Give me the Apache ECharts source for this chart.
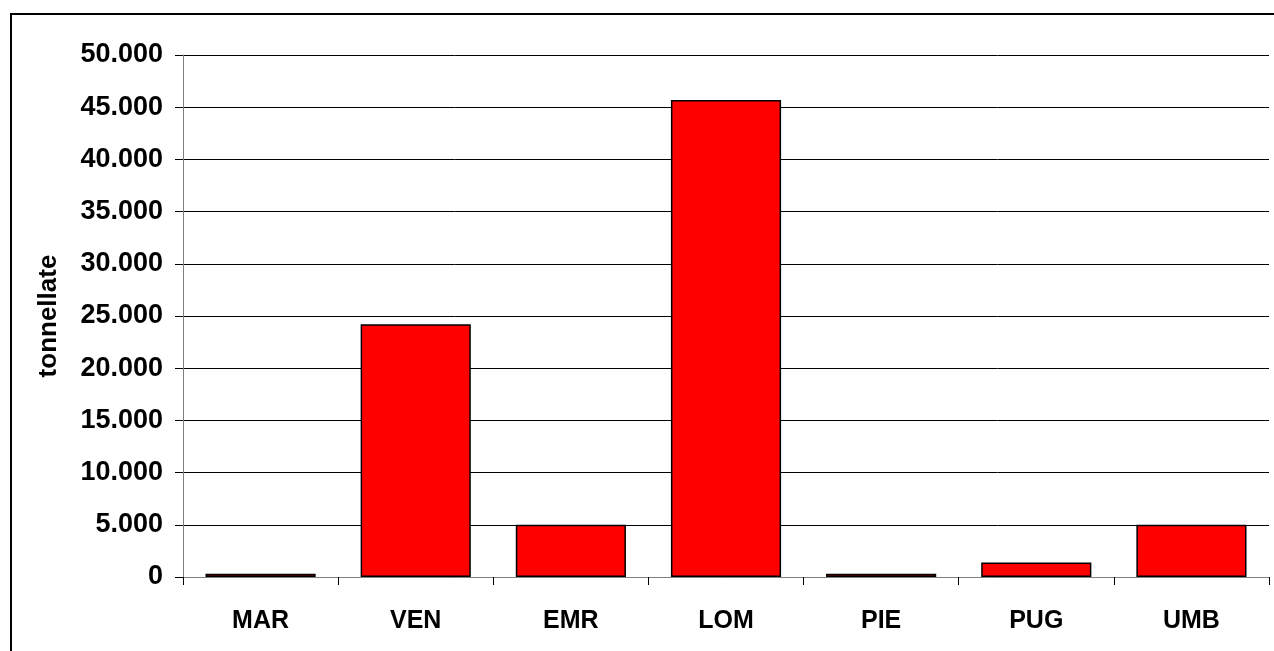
<!DOCTYPE html>
<html>
<head>
<meta charset="utf-8">
<script src="https://cdn.jsdelivr.net/npm/echarts@6/dist/echarts.min.js"></script>
<style>
html,body{margin:0;padding:0;background:#fff;}
#chart{width:1274px;height:651px;}
</style>
</head>
<body>
<div id="chart"></div>
<script>
const categories = ['MAR', 'VEN', 'EMR', 'LOM', 'PIE', 'PUG', 'UMB'];
const values = [300, 24200, 5000, 45700, 300, 1400, 5000];
const yAxisName = 'tonnellate';

const chart = echarts.init(document.getElementById('chart'), null, {renderer: 'canvas'});
const fontFamily = '"Liberation Sans", Arial, sans-serif';

chart.setOption({
  animation: false,
  backgroundColor: '#ffffff',
  graphic: [{
    type: 'rect',
    shape: {x: 11, y: 14, width: 1280, height: 660},
    style: {fill: 'none', stroke: '#000', lineWidth: 2},
    silent: true
  }],
  grid: {left: 183, right: 5, top: 55, bottom: 74, containLabel: false},
  xAxis: {
    type: 'category',
    data: categories,
    axisLine: {lineStyle: {color: '#808080', width: 1}},
    axisTick: {show: true, length: 8, lineStyle: {color: '#000'}},
    axisLabel: {
      color: '#000', fontWeight: 'bold', fontSize: 25, fontFamily: fontFamily, margin: 32
    }
  },
  yAxis: {
    type: 'value',
    min: 0, max: 50000, interval: 5000,
    name: yAxisName,
    nameLocation: 'middle',
    nameGap: 121,
    nameTextStyle: {color: '#000', fontWeight: 'bold', fontSize: 26, fontFamily: fontFamily},
    axisLine: {show: true, lineStyle: {color: '#808080', width: 1}},
    axisTick: {show: true, length: 8, lineStyle: {color: '#000'}},
    splitLine: {show: true, lineStyle: {color: '#000', width: 1}},
    axisLabel: {
      color: '#000', fontWeight: 'bold', fontSize: 27, fontFamily: fontFamily, margin: 20,
      formatter: function (v) {
        return v.toString().replace(/\B(?=(\d{3})+(?!\d))/g, '.');
      }
    }
  },
  series: [{
    type: 'bar',
    data: values,
    barCategoryGap: '29%',
    itemStyle: {color: '#ff0000', borderColor: '#000', borderWidth: 1.5}
  }]
});
</script>
</body>
</html>
